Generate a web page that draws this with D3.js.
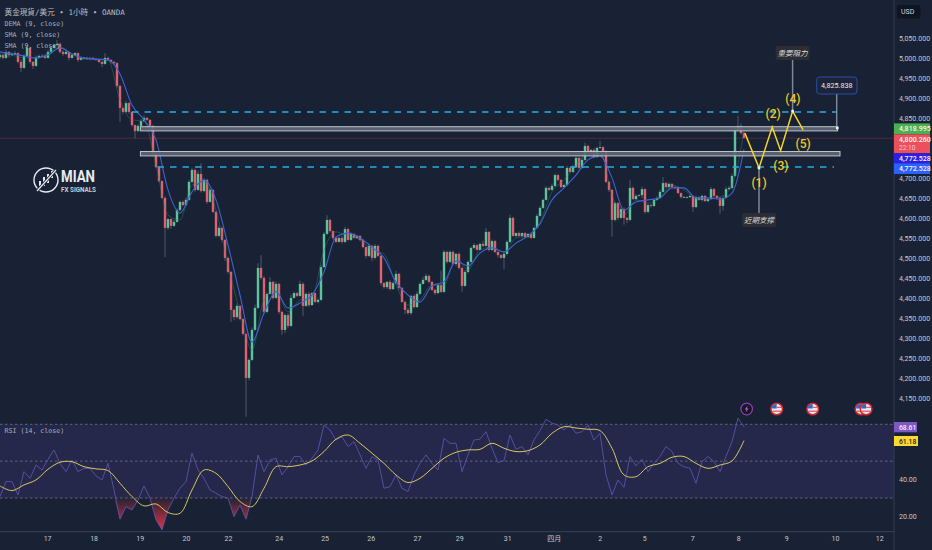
<!DOCTYPE html>
<html>
<head>
<meta charset="utf-8">
<script src="https://cdn.jsdelivr.net/npm/d3@7"></script>
<style>
html, body { margin: 0; padding: 0; background: #182234; }
svg { display: block; }
</style>
</head>
<body>
<div id="chart"></div>
<script>
// one slot = one candle
var closes = [
  5008,5001,5016,5008,5011,5013,4991,4976,5006,5026,4991,4981,5001,5006,5006,5001,5016,5026,5033,5036,
  5016,5011,5016,5001,5008,5013,4996,5001,5001,4998,5001,4998,4996,4991,4986,5001,4996,4991,4988,4931,
  4876,4866,4888,4866,4833,4818,4831,4843,4851,4846,4831,4763,4728,4693,4651,4576,4598,4581,4591,4621,
  4641,4633,4646,4691,4721,4671,4711,4668,4696,4641,4671,4616,4556,4576,4546,4501,4466,4371,4353,4381,
  4348,4311,4201,4246,4321,4376,4476,4451,4366,4411,4441,4401,4436,4366,4321,4358,4331,4401,4413,4406,
  4436,4381,4411,4383,4413,4391,4396,4478,4561,4596,4568,4551,4541,4551,4541,4573,4546,4561,4551,4556,
  4546,4528,4506,4531,4501,4531,4506,4438,4428,4441,4423,4438,4461,4426,4391,4371,4363,4406,4378,4411,
  4436,4446,4456,4441,4421,4413,4433,4416,4516,4491,4516,4486,4511,4476,4431,4466,4491,4526,4533,4521,
  4536,4531,4566,4521,4543,4516,4508,4501,4511,4541,4601,4556,4563,4556,4563,4553,4561,4551,4576,4606,
  4626,4646,4676,4671,4681,4708,4696,4678,4683,4726,4716,4728,4751,4726,4746,4781,4766,4771,4753,4776,
  4778,4766,4691,4671,4596,4638,4601,4623,4601,4596,4676,4648,4656,4658,4673,4616,4633,4631,4646,4651,
  4666,4688,4678,4686,4678,4678,4663,4653,4653,4653,4656,4628,4653,4646,4656,4643,4648,4673,4656,4651,
  4631,4651,4673,4676,4706,4821,4831,4813,4801];
var firstOpen = 5003;

// wick length above / below the body, in price
var upperWicks = [
  4,3,6,2,4,5,2,6,4,8,3,2,6,3,4,3,5,6,4,10,
  3,4,6,2,5,3,2,4,2,3,2,3,2,4,3,12,3,2,3,2,
  3,2,6,3,2,2,4,5,6,3,2,3,2,3,2,4,3,2,6,4,
  3,4,6,5,6,3,8,27,4,3,5,2,3,6,3,2,3,2,3,6,
  2,3,2,4,6,8,12,32,5,4,12,3,6,3,3,4,5,8,4,3,
  8,4,3,5,3,2,4,6,5,12,3,2,4,2,5,6,3,4,2,3,
  2,3,2,6,3,5,3,2,3,2,4,5,8,3,2,2,5,3,4,6,
  4,8,6,3,2,3,4,37,5,3,4,3,2,4,3,5,4,3,5,2,
  3,8,10,2,4,3,2,3,6,4,8,3,2,4,2,3,2,4,3,5,
  4,3,5,3,6,4,3,2,4,5,3,6,4,3,6,8,3,3,4,3,
  15,3,4,3,2,4,3,8,4,2,20,4,5,3,6,2,4,3,3,4,
  5,15,3,4,2,3,2,2,3,2,3,2,4,2,3,2,4,6,3,2,
  3,4,6,5,6,8,25,6,3];
var lowerWicks = [
  5,4,3,6,3,2,4,10,3,2,4,8,3,2,4,3,2,3,2,3,
  4,5,3,6,2,3,5,2,3,2,3,2,3,3,8,2,3,4,3,5,
  35,6,3,5,4,18,3,2,3,2,4,5,3,4,3,73,5,8,3,2,
  3,2,3,2,3,5,2,4,3,5,2,3,4,3,6,8,4,30,8,5,
  3,4,97,6,3,2,3,4,6,3,2,4,3,5,12,8,6,3,2,3,
  2,25,3,5,2,3,4,3,2,3,4,5,3,2,4,3,2,3,2,3,
  4,3,6,3,8,4,3,6,4,5,3,2,3,5,3,10,4,5,3,2,
  3,2,3,4,3,5,2,3,3,4,2,3,5,4,15,3,4,2,3,2,
  2,3,2,4,3,3,6,3,28,4,3,2,3,2,4,3,2,3,2,3,
  2,3,2,3,2,3,4,3,2,3,2,3,2,4,3,2,3,2,3,2,
  3,4,3,5,42,4,6,3,17,8,3,2,3,2,8,5,3,4,3,2,
  3,2,3,2,3,4,2,3,2,3,2,12,3,2,4,2,3,2,6,3,
  20,12,3,2,4,3,3,3,2];

// moving averages, one value every 4 slots
var smaValues = [
  5016,5011,5006,5001,5008,5026,5011,5001,4998,4996,4961,4883,4846,4796,4671,4613,4666,4696,4646,4533,
  4408,4291,4363,4416,4376,4388,4408,4466,4553,4563,4551,4528,4501,4441,4408,4391,4431,4441,4493,4481,
  4513,4526,4516,4538,4556,4586,4646,4676,4708,4746,4756,4701,4621,4641,4646,4651,4676,4676,4651,4651,
  4648,4663,4772.528];
var demaValues = [
  5011,5008,5001,5001,5013,5028,5011,4998,4998,4996,4896,4846,4843,4733,4608,4596,4683,4691,4621,4483,
  4366,4271,4396,4421,4366,4396,4403,4521,4566,4556,4546,4521,4511,4433,4383,4396,4433,4433,4501,4471,
  4521,4528,4516,4551,4556,4591,4666,4696,4731,4766,4766,4658,4608,4646,4638,4651,4683,4671,4651,4648,
  4653,4683,4818.995];

// RSI, one value every 2 slots
var rsiValues = [
  30.8,38.9,38.9,31.7,44.3,40.7,47.9,45.2,51,56.1,48.8,44.3,50.6,44.3,46.1,46.1,42,39.8,48.8,34.4,
  18.5,25.3,23.5,29,36.5,29.9,18.1,12.7,23.5,29.9,35.3,38.9,54.3,45.2,40.7,34.4,32.6,30.8,29.9,19.9,
  26.2,18.5,30.8,53.4,44.3,50.6,51.6,42.5,47,52.5,52.5,47.9,51.6,56.1,69.6,66.9,61.5,63.3,57.9,60.6,
  53.4,46.1,52.5,50.6,35.3,36.2,42.5,35.3,33.5,42.5,48.8,53.4,48.8,45.2,62.4,59.7,59.7,44.3,53.4,
  61.5,61.9,66,57,49.2,50.3,64.2,56.4,57.9,53.4,61.5,66.6,72.7,70.6,69.6,66.9,69.6,65.1,66,69.6,
  61.5,65.1,42.5,31.7,39.8,35.8,52.5,47.4,51,44.3,48.8,52.5,57.9,55.2,48.8,47,46.1,38,49.7,52.5,
  49.7,44.3,52.5,60.6,73.3,68.61];
// RSI moving average, one value every 4 slots
var rsiMaValues = [
  36.5,34,37.1,39.8,45.6,49.4,49.7,47,45.8,44.9,38,30.8,25.7,26.8,22.1,21.7,34.4,45.2,43.4,36.2,
  28.1,25.3,35.3,47,47,47.9,50.1,55.2,61.9,64.2,59.7,54.3,48.8,42.5,38.4,40.7,46.1,51.6,54.8,56.1,
  56.4,59.7,57,55.2,55.7,58.8,65.1,68.7,68,67.3,66.6,57,42.5,41.6,47,48.8,52.1,52.5,48.8,46.1,
  47.9,50.1,61.18];

var dayLabels = ["17","18","19","20","22","24","25","26","27","29","31","四月","2","5","7","8","9","10","12"];
var daySlots = [15.7,31.2,46.6,62,76,92.9,108.2,123.6,139,153.1,169.1,184.6,199.9,214.7,230.7,246.1,262.1,278.3,293.1];
var priceTicks = [5050,5000,4950,4900,4850,4700,4650,4600,4550,4500,4450,4400,4350,4300,4250,4200,4150];
var rsiTicks = [40,20];
var rsiLevels = [70,50,30];

// drawn levels and the projected wave
var dashedLevels = [{p: 4866, from: 44, to: 279}, {p: 4728, from: 52.5, to: 278}];
var zones = [{top: 4829, bottom: 4818.5, from: 46.8, to: 279.2}, {top: 4767, bottom: 4756, from: 46.8, to: 280}];
var waveSlots = [248.3,253,257.4,260.2,264.2,267.7];
var wavePrices = [4813,4726,4828,4769,4868,4821];
var waveLabels = ["(1)","(2)","(3)","(4)","(5)"];
var waveLabelSlots = [253,257.7,260.3,264.3,267.7];
var waveLabelPrices = [4688,4862,4732,4899,4786];
var lastPrice = 4800.26;
var eventSlots = [248.9,258.9,270.9,287,288.7];

var width = 932, height = 550, axisX = 894, bottomY = 531.7, paneBottom = 417;

var x = d3.scaleLinear().domain([0, width / 3]).range([0, width]);
var y = d3.scaleLinear().domain([5050, 4150]).range([38.3, 398.3]);
var yRsi = d3.scaleLinear().domain([70, 30]).range([424.3, 498]);

var candles = closes.map(function(c, i) {
    var o = i ? closes[i - 1] : firstOpen;
    return {i: i, open: o, close: c,
        high: Math.max(o, c) + upperWicks[i],
        low: Math.min(o, c) - lowerWicks[i]};
});

var svg = d3.select("#chart").append("svg")
    .attr("width", width)
    .attr("height", height)
    .style("font-family", "Roboto, sans-serif");

svg.append("rect").attr("width", width).attr("height", height).attr("fill", "#182234");

var defs = svg.append("defs");
defs.append("clipPath").attr("id", "mainClip").append("rect")
    .attr("width", axisX).attr("height", paneBottom);
defs.append("clipPath").attr("id", "rsiClip").append("rect")
    .attr("y", paneBottom).attr("width", axisX).attr("height", bottomY - paneBottom);
var grad = defs.append("linearGradient").attr("id", "oversold")
    .attr("gradientUnits", "userSpaceOnUse")
    .attr("x1", 0).attr("x2", 0).attr("y1", yRsi(30)).attr("y2", yRsi(13));
grad.append("stop").attr("offset", 0).attr("stop-color", "#f23645").attr("stop-opacity", 0.05);
grad.append("stop").attr("offset", 1).attr("stop-color", "#f23645").attr("stop-opacity", 0.9);

// logo
var logo = svg.append("g").attr("fill", "#e8ebef");
logo.append("circle").attr("cx", 46).attr("cy", 180).attr("r", 12)
    .attr("fill", "none").attr("stroke", "#e8ebef").attr("stroke-width", 1.4);
[[40, 181, 6], [44, 177, 9], [48, 174, 9], [52, 171, 7]].forEach(function(b) {
    logo.append("rect").attr("x", b[0] - 1).attr("y", b[1]).attr("width", 2).attr("height", b[2]);
});
logo.append("line").attr("x1", 37).attr("y1", 191).attr("x2", 56).attr("y2", 170)
    .attr("stroke", "#182234").attr("stroke-width", 3);
logo.append("line").attr("x1", 37).attr("y1", 191).attr("x2", 56).attr("y2", 170)
    .attr("stroke", "#e8ebef").attr("stroke-width", 1.2);
logo.append("text").attr("x", 61).attr("y", 181.5)
    .attr("font-size", 16).attr("font-weight", 700)
    .attr("textLength", 34).attr("lengthAdjust", "spacingAndGlyphs").text("MIAN");
logo.append("text").attr("x", 61).attr("y", 191.5)
    .attr("font-size", 7).attr("font-weight", 700).attr("fill", "#c9ced6")
    .attr("textLength", 35).attr("lengthAdjust", "spacingAndGlyphs").text("FX SIGNALS");

// last price line
svg.append("line").attr("x1", 0).attr("x2", axisX)
    .attr("y1", y(lastPrice)).attr("y2", y(lastPrice))
    .attr("stroke", "#6b2f3c").attr("stroke-width", 0.7);

// candles
var main = svg.append("g").attr("clip-path", "url(#mainClip)");
var bars = main.append("g").selectAll("g").data(candles).enter().append("g");
bars.append("line")
    .attr("x1", function(d) { return x(d.i); })
    .attr("x2", function(d) { return x(d.i); })
    .attr("y1", function(d) { return y(d.high); })
    .attr("y2", function(d) { return y(d.low); })
    .attr("stroke", "#5f6775")
    .attr("stroke-width", 0.8);
bars.append("rect")
    .attr("x", function(d) { return x(d.i) - 1.2; })
    .attr("width", 2.4)
    .attr("y", function(d) { return y(Math.max(d.open, d.close)); })
    .attr("height", function(d) { return Math.max(0.8, Math.abs(y(d.open) - y(d.close))); })
    .attr("fill", function(d) { return d.close >= d.open ? "#5cc49d" : "#e2606f"; });

var maLine = d3.line()
    .x(function(d, i) { return x(i * 4); })
    .y(function(d) { return y(d); })
    .curve(d3.curveMonotoneX);
main.append("path").attr("d", maLine(demaValues))
    .attr("fill", "none").attr("stroke", "#2f8a68").attr("stroke-width", 0.6).attr("stroke-opacity", 0.7);
main.append("path").attr("d", maLine(smaValues))
    .attr("fill", "none").attr("stroke", "#3f62d2").attr("stroke-width", 1.1);

// dashed levels
svg.append("g").selectAll("line").data(dashedLevels).enter().append("line")
    .attr("x1", function(d) { return x(d.from); })
    .attr("x2", function(d) { return x(d.to); })
    .attr("y1", function(d) { return y(d.p); })
    .attr("y2", function(d) { return y(d.p); })
    .attr("stroke", "#22aee6")
    .attr("stroke-width", 1.5)
    .attr("stroke-dasharray", "6.5 6");

// grey zones
svg.append("g").selectAll("rect").data(zones).enter().append("rect")
    .attr("x", function(d) { return x(d.from); })
    .attr("width", function(d) { return x(d.to) - x(d.from); })
    .attr("y", function(d) { return y(d.top); })
    .attr("height", function(d) { return y(d.bottom) - y(d.top); })
    .attr("fill", "#5f6775")
    .attr("fill-opacity", 0.9)
    .attr("stroke", "#bfc4cb")
    .attr("stroke-width", 1);

// callouts
var stems = [
    {s: 264.2, a: 4996, b: 4868},
    {s: 253, a: 4726, b: 4613},
    {s: 278.9, a: 4825.8, b: 4911}
];
svg.append("g").selectAll("line").data(stems).enter().append("line")
    .attr("x1", function(d) { return x(d.s); })
    .attr("x2", function(d) { return x(d.s); })
    .attr("y1", function(d) { return y(d.a); })
    .attr("y2", function(d) { return y(d.b); })
    .attr("stroke", "#7f8794")
    .attr("stroke-width", 1.5);

function note(cx, cy, w, h, label) {
    svg.append("rect").attr("x", cx - w / 2).attr("y", cy - h / 2).attr("width", w).attr("height", h)
        .attr("rx", 2).attr("fill", "#2c2e33");
    svg.append("text").attr("x", cx).attr("y", cy + 2.6).attr("text-anchor", "middle")
        .attr("font-family", "'Noto Sans CJK TC'").attr("font-size", 7.5).attr("font-style", "italic")
        .attr("fill", "#d9dbdf").text(label);
}
note(x(264.2), 53, 34, 14, "重要阻力");
note(x(253), 220, 34, 14, "近期支撑");

svg.append("rect").attr("x", 816.7).attr("y", 77).attr("width", 40.3).attr("height", 17)
    .attr("rx", 3).attr("fill", "#1c2538").attr("stroke", "#2a4aa8").attr("stroke-width", 1);
svg.append("text").attr("x", 836.8).attr("y", 88.2).attr("text-anchor", "middle")
    .attr("font-size", 7.2).attr("fill", "#e6e8ec").text("4,825.838");

// projected wave
var wave = d3.line()
    .x(function(d) { return x(d[0]); })
    .y(function(d) { return y(d[1]); });
svg.append("path").attr("d", wave(d3.zip(waveSlots, wavePrices)))
    .attr("fill", "none").attr("stroke", "#f2d32c").attr("stroke-width", 1.5);
svg.append("g").selectAll("text").data(waveLabels).enter().append("text")
    .attr("x", function(d, i) { return x(waveLabelSlots[i]); })
    .attr("y", function(d, i) { return y(waveLabelPrices[i]); })
    .attr("dy", "0.36em")
    .attr("text-anchor", "middle")
    .attr("font-size", 12)
    .attr("font-weight", 500)
    .attr("fill", "#ecc92c")
    .text(function(d) { return d; });

// anchors
[[264.2, 4868], [253, 4726], [279.1, 4825.8]].forEach(function(a) {
    svg.append("rect").attr("x", x(a[0]) - 1.3).attr("y", y(a[1]) - 1.3)
        .attr("width", 2.6).attr("height", 2.6).attr("fill", "#f2f3f5");
});

// RSI pane
var rsi = svg.append("g").attr("clip-path", "url(#rsiClip)");
rsi.append("rect").attr("x", 0).attr("width", axisX)
    .attr("y", yRsi(70)).attr("height", yRsi(30) - yRsi(70))
    .attr("fill", "#25284a");
rsi.append("g").selectAll("line").data(rsiLevels).enter().append("line")
    .attr("x1", 0).attr("x2", axisX)
    .attr("y1", function(d) { return yRsi(d); })
    .attr("y2", function(d) { return yRsi(d); })
    .attr("stroke", "#7b8090")
    .attr("stroke-width", 0.7)
    .attr("stroke-dasharray", "2.5 2.5");
rsi.append("path")
    .attr("d", d3.area()
        .x(function(d, i) { return x(i * 2); })
        .y0(yRsi(30))
        .y1(function(d) { return yRsi(Math.min(d, 30)); })(rsiValues))
    .attr("fill", "url(#oversold)");
rsi.append("path")
    .attr("d", d3.line()
        .x(function(d, i) { return x(i * 2); })
        .y(function(d) { return yRsi(d); })(rsiValues))
    .attr("fill", "none").attr("stroke", "#5c52ab").attr("stroke-width", 0.9);
rsi.append("path")
    .attr("d", d3.line()
        .x(function(d, i) { return x(i * 4); })
        .y(function(d) { return yRsi(d); })
        .curve(d3.curveCatmullRom)(rsiMaValues))
    .attr("fill", "none").attr("stroke", "#d6c760").attr("stroke-width", 1);

// event markers
eventSlots.forEach(function(s, i) {
    var g = svg.append("g").attr("transform", "translate(" + x(s) + ",409)");
    if (i == 0) {
        g.append("circle").attr("r", 5.8).attr("fill", "#1b1626").attr("stroke", "#8e3fb5").attr("stroke-width", 1.2);
        g.append("path").attr("d", "M1,-3.4 L-1.8,0.6 L-0.2,0.6 L-1,3.4 L1.8,-0.6 L0.2,-0.6 Z").attr("fill", "#b06ad0");
        return;
    }
    g.append("circle").attr("r", 5.8).attr("fill", "#e4e8f0").attr("stroke", "#d3262e").attr("stroke-width", 1.5);
    g.append("path").attr("d", "M-4.6,-2.6 A5.2,5.2 0 0 1 0,-5 L0,-0.6 L-4.9,-0.6 Z").attr("fill", "#3d62c4");
    g.append("rect").attr("x", -4.4).attr("y", 1.6).attr("width", 8.8).attr("height", 1.2).attr("fill", "#e2505a");
    g.append("rect").attr("x", 0).attr("y", -2.2).attr("width", 4.8).attr("height", 1.1).attr("fill", "#e2505a");
});

// frame
svg.append("line").attr("x1", axisX).attr("x2", axisX).attr("y1", 0).attr("y2", height)
    .attr("stroke", "#333d50").attr("stroke-width", 1);
svg.append("line").attr("x1", 0).attr("x2", axisX).attr("y1", bottomY).attr("y2", bottomY)
    .attr("stroke", "#3a4354").attr("stroke-width", 1);

// axes
function cleanAxis(sel) {
    sel.select(".domain").remove();
    sel.selectAll(".tick line").remove();
    sel.selectAll("text").attr("fill", "#c3c7cf").attr("font-family", "Roboto, sans-serif");
}
svg.append("g").attr("transform", "translate(899,0)")
    .call(d3.axisRight(y).tickValues(priceTicks).tickFormat(d3.format(",.3f")).tickSize(0).tickPadding(0))
    .call(cleanAxis)
    .selectAll("text").attr("font-size", 7.1);
svg.append("g").attr("transform", "translate(899,0)")
    .call(d3.axisRight(yRsi).tickValues(rsiTicks).tickFormat(d3.format(".2f")).tickSize(0).tickPadding(0))
    .call(cleanAxis)
    .selectAll("text").attr("font-size", 7.1);
svg.append("g").attr("transform", "translate(0,536)")
    .call(d3.axisBottom(x).tickValues(daySlots)
        .tickFormat(function(d, i) { return dayLabels[i]; }).tickSize(0).tickPadding(0))
    .call(cleanAxis)
    .selectAll("text").attr("font-size", 7).attr("font-family", "Roboto, 'Noto Sans CJK TC', sans-serif");

// price tags
function tag(y0, y1, w, fill, label, textFill, size) {
    svg.append("rect").attr("x", axisX).attr("y", y0).attr("width", w).attr("height", y1 - y0)
        .attr("fill", fill);
    svg.append("text").attr("x", axisX + 5).attr("y", (y0 + y1) / 2 + 2.5)
        .attr("font-size", size || 7.1).attr("font-weight", 500).attr("fill", textFill).text(label);
}
tag(123.4, 134.3, 36, "#4caf50", "4,818.995", "#f5f5f5");
svg.append("rect").attr("x", axisX).attr("y", 134.3).attr("width", 36).attr("height", 19).attr("fill", "#ec4f5e");
svg.append("text").attr("x", axisX + 5).attr("y", 141.6).attr("font-size", 7.1).attr("font-weight", 500)
    .attr("fill", "#f7f7f7").text("4,800.260");
svg.append("text").attr("x", axisX + 5).attr("y", 150.4).attr("font-size", 6.6).attr("fill", "#f9c5c9").text("22:10");
tag(153.3, 163.3, 36, "#2c20e6", "4,772.528", "#f5f5f5");
tag(163.3, 174, 36, "#2962ff", "4,772.528", "#f5f5f5");
tag(422, 432.3, 23, "#7e57c2", "68.61", "#f2f0f7", 6.8);
tag(436, 446, 24, "#fdd835", "61.18", "#1c1c1c", 6.8);

svg.append("rect").attr("x", 897).attr("y", 5).attr("width", 23.5).attr("height", 13.5).attr("rx", 2).attr("fill", "#0f1520");
svg.append("text").attr("x", 901).attr("y", 14).attr("font-size", 7).attr("fill", "#d5d8dd").text("USD");

// legends
var monoFont = "'DejaVu Sans Mono', 'Noto Sans CJK TC', monospace";
svg.append("text").attr("x", 4.6).attr("y", 15).attr("font-family", monoFont)
    .attr("font-size", 7.6).attr("fill", "#b7bbc4").attr("xml:space", "preserve")
    .text("黄金現貨/美元 • 1小時 • OANDA");
svg.append("g").selectAll("text")
    .data(["DEMA (9, close)", "SMA (9, close)", "SMA (9, close)"]).enter().append("text")
    .attr("x", 4.6)
    .attr("y", function(d, i) { return 26 + i * 11; })
    .attr("font-family", monoFont)
    .attr("font-size", 6.6)
    .attr("fill", "#aab0ba")
    .text(function(d) { return d; });
svg.append("text").attr("x", 4.6).attr("y", 433).attr("font-family", monoFont)
    .attr("font-size", 6.6).attr("fill", "#aab0ba").text("RSI (14, close)");
</script>
</body>
</html>
